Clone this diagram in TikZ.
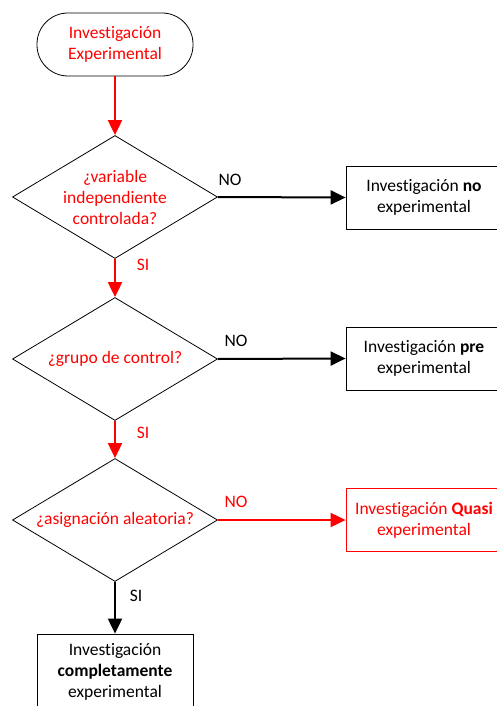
\documentclass[tikz,border=0pt]{standalone}
\usepackage{fontspec}
\setmainfont[Ligatures=NoCommon]{Carlito}
\usetikzlibrary{shapes.geometric,arrows.meta}

\begin{document}
\begin{tikzpicture}[x=1pt, y=-1pt,
		font=\fontsize{17.5}{21}\selectfont,
		terminal/.style={draw, line width=0.8pt, rectangle, rounded corners=31pt, minimum width=156pt, minimum height=63pt, align=center},
		decision/.style={draw, line width=0.8pt, diamond, aspect=1.667, inner sep=0pt, minimum width=205pt, minimum height=123pt, align=center, text=red},
		resultbox/.style={draw, line width=0.8pt, rectangle, minimum width=156pt, minimum height=63pt, align=center},
		flow/.style={-{Triangle[length=15pt,width=14pt]}, line width=2pt}]
		\useasboundingbox (0, 0) rectangle (496, 706);

		% 開始の角丸を描画
		\node[terminal, text=red] (start) at (115, 44.5) {Investigación\\Experimental};

		% 判断のひし形を描画
		\node[decision] (q1) at (115, 197) {¿variable\\independiente\\controlada?};
		\node[decision] (q2) at (115, 359) {¿grupo de control?};
		\node[decision] (q3) at (115, 520) {¿asignación aleatoria?};

		% 結果の四角を描画
		\node[resultbox] (r1) at (424, 197.5) {Investigación \textbf{no}\\experimental};
		\node[resultbox] (r2) at (424, 358.5) {Investigación \textbf{pre}\\experimental};
		\node[resultbox, draw=red, text=red] (r3) at (424, 520) {Investigación \textbf{Quasi}\\experimental};
		\node[resultbox, minimum height=76pt] (r4) at (115, 672) {Investigación\\\textbf{completamente}\\experimental};

		% 矢印を描画
		\draw[flow, red] (start) -- (q1);
		\draw[flow, red] (q1) -- (q2);
		\draw[flow, red] (q2) -- (q3);
		\draw[flow] (q3) -- (r4);
		\draw[flow] (q1.east) -- (r1.west);
		\draw[flow] (q2.east) -- (r2.west);
		\draw[flow, red] (q3.east) -- (r3.west);

		% NOとSIの文字を描画
		\node (no1) at (230, 180) {NO};
		\node (no2) at (236, 341) {NO};
		\node[text=red] (no3) at (236, 502) {NO};
		\node[text=red] (si1) at (143, 265) {SI};
		\node[text=red] (si2) at (143, 433) {SI};
		\node (si3) at (136, 596) {SI};

	\end{tikzpicture}
\end{document}
